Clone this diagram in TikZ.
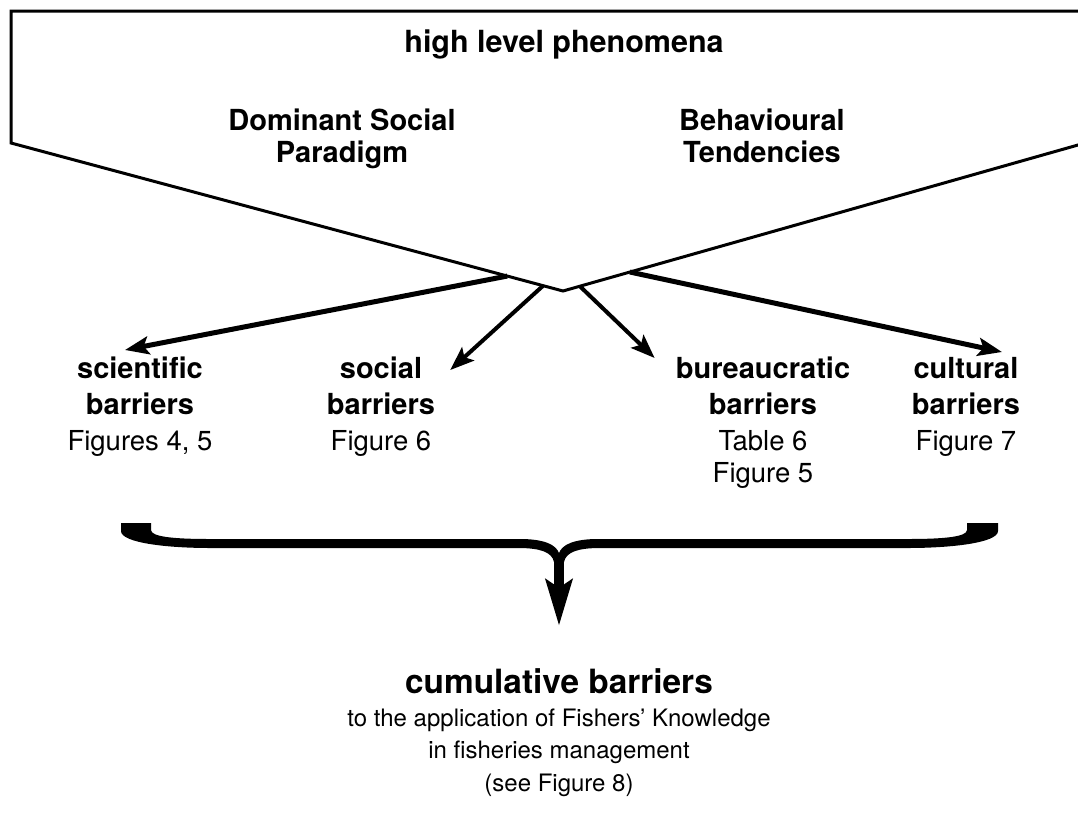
\documentclass[tikz,border=0pt]{standalone}
\usepackage{fontspec}
\setmainfont{TeX Gyre Heros}
\usetikzlibrary{positioning, arrows.meta, calc}

\newcommand{\figtxt}[1]{{\fontsize{27.5}{36}\selectfont #1}}

\begin{document}
\begin{tikzpicture}[x=1pt, y=-1pt,
        every node/.style={inner sep=0pt, align=center},
        headtxt/.style={font=\bfseries\fontsize{29}{32}\selectfont},
        grouptxt/.style={font=\fontsize{29}{36}\selectfont},
        thinarrow/.style={line width=4pt, -{Stealth[length=24pt, width=18pt, inset=5pt]}},
        thickarrow/.style={line width=5pt, -{Stealth[length=24pt, width=18pt, inset=5pt]}},
        bigarrow/.style={line width=10pt, -{Stealth[length=46pt, width=26pt, inset=8pt]}}]
    \useasboundingbox (0,0) rectangle (1078,814);

    % Top banner, open on the right
    \coordinate (tl) at (11,11);
    \coordinate (tr) at (1090,11);
    \coordinate (br) at (1090,141.6);
    \coordinate (bl) at (11,143);
    \coordinate (apex) at (563,291);
    \draw[line width=3pt, line join=miter] (br) -- (apex) -- (bl) -- (tl) -- (tr);

    % Texts inside the banner
    \node[font=\bfseries\fontsize{30.5}{36}\selectfont, anchor=base] (hlp) at (564,52) {high level phenomena};
    \node[headtxt, anchor=north] (dsp) at (342,109) {Dominant Social\\Paradigm};
    \node[headtxt, anchor=north] (btd) at (762,109) {Behavioural\\Tendencies};

    % The four kinds of barriers
    \node[grouptxt, anchor=north] (sci) at (140,357) {\textbf{scientific}\\\textbf{barriers}\\\figtxt{Figures 4, 5}};
    \node[grouptxt, anchor=north] (soc) at (381,357) {\textbf{social}\\\textbf{barriers}\\\figtxt{Figure 6}};
    \node[grouptxt, anchor=north] (bur) at (763,357) {\textbf{bureaucratic}\\\textbf{barriers}\\\figtxt{Table 6}\\[-4pt]\figtxt{Figure 5}};
    \node[grouptxt, anchor=north] (cul) at (966,357) {\textbf{cultural}\\\textbf{barriers}\\\figtxt{Figure 7}};

    % Arrows out of the banner
    \draw[thickarrow] ($(bl)!0.899!(apex)$) -- ([xshift=-15pt,yshift=7pt]sci.north);
    \draw[thinarrow] ($(bl)!0.964!(apex)$) -- ([xshift=15pt,yshift=-13pt]soc.north east);
    \draw[thinarrow] ($(apex)!0.032!(br)$) -- ([xshift=-21pt,yshift=-1pt]bur.north west);
    \draw[thickarrow] ($(apex)!0.127!(br)$) -- ([xshift=36pt,yshift=5pt]cul.north);

    % Brace gathering the barriers
    \fill (151,523) -- (151,530) .. controls (151,537) and (175,539) .. (210,539)
        -- (520,539) .. controls (545,539) and (556,545) .. (559,553)
        .. controls (562,545) and (573,539) .. (598,539)
        -- (908,539) .. controls (943,539) and (967,537) .. (967,530)
        -- (967,523) -- (998,523) -- (998,531)
        .. controls (998,543) and (950,548) .. (908,548)
        -- (600,548) .. controls (578,548) and (566,552) .. (564,562)
        -- (554,562) .. controls (552,552) and (540,548) .. (518,548)
        -- (210,548) .. controls (168,548) and (121,543) .. (121,531)
        -- (121,523) -- cycle;
    \coordinate (cusp) at (559,556);
    \coordinate (braceend) at (559,626);
    \draw[bigarrow] (cusp) -- (braceend);

    % Result
    \node[font=\bfseries\fontsize{33.4}{40}\selectfont, anchor=base] (cum) at (559,693) {cumulative barriers};
    \node[font=\fontsize{24}{32.5}\selectfont, below=15pt of cum] (cumsub) {to the application of Fishers' Knowledge\\in fisheries management\\(see Figure 8)};
\end{tikzpicture}
\end{document}
